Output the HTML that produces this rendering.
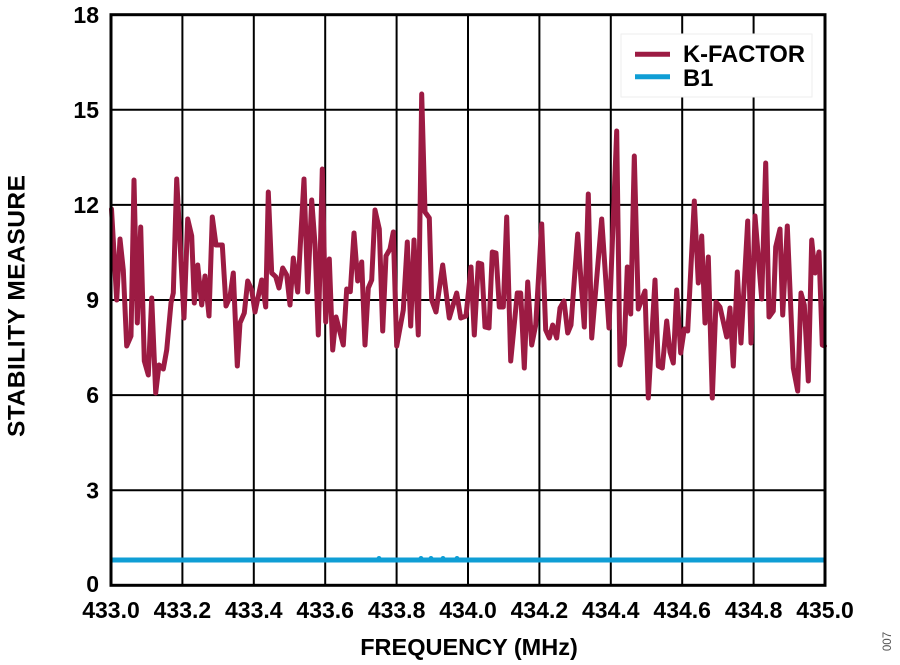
<!DOCTYPE html>
<html>
<head>
<meta charset="utf-8">
<style>
html,body{margin:0;padding:0;background:#fff;}
svg{display:block;}
text{font-family:"Liberation Sans",Arial,sans-serif;}
</style>
</head>
<body>
<svg width="900" height="665" viewBox="0 0 900 665" xmlns="http://www.w3.org/2000/svg">
<rect width="900" height="665" fill="#fff"/>
<!-- grid -->
<g stroke="#000" stroke-width="2" fill="none">
<line x1="182.4" y1="14.7" x2="182.4" y2="585.3"/>
<line x1="253.8" y1="14.7" x2="253.8" y2="585.3"/>
<line x1="325.2" y1="14.7" x2="325.2" y2="585.3"/>
<line x1="396.6" y1="14.7" x2="396.6" y2="585.3"/>
<line x1="468" y1="14.7" x2="468" y2="585.3"/>
<line x1="539.4" y1="14.7" x2="539.4" y2="585.3"/>
<line x1="610.8" y1="14.7" x2="610.8" y2="585.3"/>
<line x1="682.2" y1="14.7" x2="682.2" y2="585.3"/>
<line x1="753.6" y1="14.7" x2="753.6" y2="585.3"/>
<line x1="111" y1="109.8" x2="825" y2="109.8"/>
<line x1="111" y1="204.9" x2="825" y2="204.9"/>
<line x1="111" y1="300" x2="825" y2="300"/>
<line x1="111" y1="395.1" x2="825" y2="395.1"/>
<line x1="111" y1="490.2" x2="825" y2="490.2"/>
</g>
<!-- legend box -->
<rect x="621" y="34" width="191" height="63" fill="#fff" stroke="#eeeeee" stroke-width="1"/>
<!-- B1 -->
<line x1="111" y1="560" x2="825" y2="560" stroke="#0f9ed5" stroke-width="5"/>
<g fill="#0f9ed5">
<circle cx="379" cy="558.5" r="2.5"/>
<circle cx="421" cy="558.5" r="2.5"/>
<circle cx="431" cy="558.5" r="2.5"/>
<circle cx="443" cy="558.5" r="2.5"/>
<circle cx="457" cy="558.5" r="2.5"/>
</g>
<!-- K-factor -->
<polyline fill="none" stroke="#9c1b43" stroke-width="5" stroke-linejoin="round" stroke-linecap="round"
points="111.5,209 116.7,300 120,239 123.3,270 126.7,346 131,336 134,180 137.3,323 140.7,227 144.3,361 148.3,375 151.7,298 155.7,393 159,365 163.3,369 166.7,350 171,303 173.3,293 176.7,179 184,318 187.7,219 191.7,236 194.3,303 197.7,265 201.7,305 205,276 209,316 212.3,217 216,245 222.3,245 226,306 230,296.7 233.3,273 237.3,366 240,323 244.3,313 247.7,281 251.7,290 255,312 261.7,280 265.7,307 268.3,192 271.7,273 275.7,276.7 279,288 282.7,268 286.7,275 290,305 293.3,258 297.7,292 304,179 307.7,292 311.7,200 315,244 318.3,335 322.3,169 325.7,322 329.3,259 332.7,350 336,317 343.3,345 346.7,289 350.3,291.7 354,233 357.7,281 361.7,262 365,345 368.3,288 371.7,280 375,210 379.3,229 382.7,331 386,256 390,249 393.3,232 396.7,346 403.3,310 407.3,242 410.7,326 414,240 418.3,335 421.7,94 425,212 429.3,218 431.7,300 436,312 442.7,265 449.3,318 456.7,293 460.7,318 466,316 471,267 474.3,335 478.3,263 481.7,264 485,327 489,328 492.3,252 496,253 499.3,307 503.3,307 506.7,217 510.7,361 517.3,293 520.7,293 524.3,368 527.7,282 531.7,345 535.7,325 541.7,224 545.7,330 549.3,338 552.7,325 556.7,338 560,308 564,301 567.7,333 571,325 577.7,234 584.3,327 588.3,194 591.7,338 601.7,219 609,328 616.7,131 620,365 624.3,345 627.3,267 630.7,314 634.3,156 638.3,309 645,291 648.3,398 655,280 658.3,366 662.3,368 666.7,321 670,352 673.3,363 676.7,290 680.7,353 684.3,329 687.7,331 694.3,201 698.3,283 701.7,236 705,323 708.3,257 712.3,398 716,302 720,307 726.7,337 730,308 733.3,366 737.3,272 741,343 747.7,221 751,343 755,216 761.7,299 765.7,163 769,317 773.3,311 775.7,247 780,229 782.7,315 787.3,226 793.3,368 797.7,391 801,293 804.3,305 808.3,381 811.7,240 815,273 819,252 822.3,345 824.5,346"/>
<!-- frame -->
<rect x="111" y="14.7" width="714" height="570.6" fill="none" stroke="#000" stroke-width="3"/>
<!-- legend content -->
<line x1="635" y1="54.3" x2="670" y2="54.3" stroke="#9c1b43" stroke-width="5"/>
<line x1="635" y1="76.7" x2="670" y2="76.7" stroke="#0f9ed5" stroke-width="5"/>
<text x="683" y="62" font-size="23.7" font-weight="bold" fill="#000">K-FACTOR</text>
<text x="683" y="86" font-size="23.7" font-weight="bold" fill="#000">B1</text>
<!-- y tick labels -->
<g font-size="23" font-weight="bold" fill="#000" text-anchor="end">
<text x="99" y="23">18</text>
<text x="99" y="118">15</text>
<text x="99" y="213">12</text>
<text x="99" y="308">9</text>
<text x="99" y="403">6</text>
<text x="99" y="498.5">3</text>
<text x="99" y="592">0</text>
</g>
<!-- x tick labels -->
<g font-size="23" font-weight="bold" fill="#000" text-anchor="middle">
<text x="111" y="618">433.0</text>
<text x="182.4" y="618">433.2</text>
<text x="253.8" y="618">433.4</text>
<text x="325.2" y="618">433.6</text>
<text x="396.6" y="618">433.8</text>
<text x="468" y="618">434.0</text>
<text x="539.4" y="618">434.2</text>
<text x="610.8" y="618">434.4</text>
<text x="682.2" y="618">434.6</text>
<text x="753.6" y="618">434.8</text>
<text x="825" y="618">435.0</text>
</g>
<!-- axis titles -->
<text x="469" y="655" font-size="23.5" font-weight="bold" fill="#000" text-anchor="middle">FREQUENCY (MHz)</text>
<text transform="translate(24.5,306) rotate(-90)" font-size="24.5" font-weight="bold" fill="#000" text-anchor="middle" textLength="262">STABILITY MEASURE</text>
<text transform="translate(891,641.5) rotate(-90)" font-size="11.5" fill="#555" text-anchor="middle">007</text>
</svg>
</body>
</html>
